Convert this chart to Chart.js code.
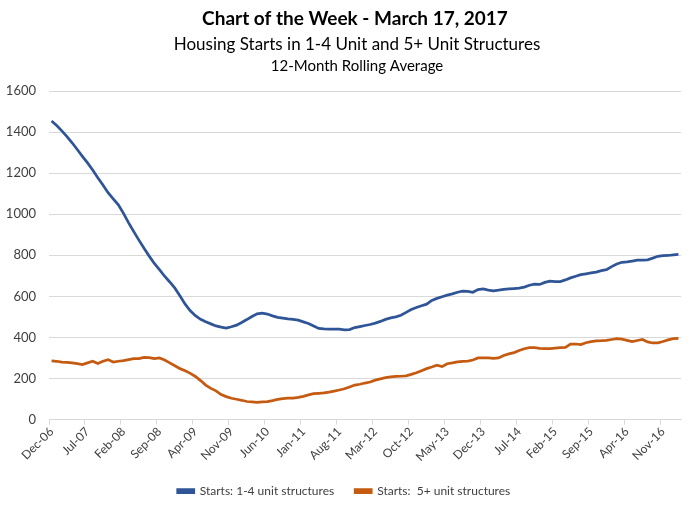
<!DOCTYPE html>
<html>
<head>
<meta charset="utf-8">
<script src="https://cdn.jsdelivr.net/npm/chart.js@4.4.1/dist/chart.umd.min.js"></script>
<style>
  html, body { margin: 0; padding: 0; background: #fff; }
</style>
</head>
<body>
<canvas id="chart" width="700" height="506"></canvas>
<script>
// monthly categories, Dec-06 .. Feb-17
const months = [
  'Dec-06',
  'Jan-07','Feb-07','Mar-07','Apr-07','May-07','Jun-07','Jul-07','Aug-07','Sep-07','Oct-07','Nov-07','Dec-07',
  'Jan-08','Feb-08','Mar-08','Apr-08','May-08','Jun-08','Jul-08','Aug-08','Sep-08','Oct-08','Nov-08','Dec-08',
  'Jan-09','Feb-09','Mar-09','Apr-09','May-09','Jun-09','Jul-09','Aug-09','Sep-09','Oct-09','Nov-09','Dec-09',
  'Jan-10','Feb-10','Mar-10','Apr-10','May-10','Jun-10','Jul-10','Aug-10','Sep-10','Oct-10','Nov-10','Dec-10',
  'Jan-11','Feb-11','Mar-11','Apr-11','May-11','Jun-11','Jul-11','Aug-11','Sep-11','Oct-11','Nov-11','Dec-11',
  'Jan-12','Feb-12','Mar-12','Apr-12','May-12','Jun-12','Jul-12','Aug-12','Sep-12','Oct-12','Nov-12','Dec-12',
  'Jan-13','Feb-13','Mar-13','Apr-13','May-13','Jun-13','Jul-13','Aug-13','Sep-13','Oct-13','Nov-13','Dec-13',
  'Jan-14','Feb-14','Mar-14','Apr-14','May-14','Jun-14','Jul-14','Aug-14','Sep-14','Oct-14','Nov-14','Dec-14',
  'Jan-15','Feb-15','Mar-15','Apr-15','May-15','Jun-15','Jul-15','Aug-15','Sep-15','Oct-15','Nov-15','Dec-15',
  'Jan-16','Feb-16','Mar-16','Apr-16','May-16','Jun-16','Jul-16','Aug-16','Sep-16','Oct-16','Nov-16','Dec-16',
  'Jan-17','Feb-17'
];

// Starts: 1-4 unit structures (thousands, 12-month rolling avg)
const oneToFour = [
  1454,1432,1406,1378,1348,1315,1282,1250,1215,1178,1142,1105,1075,1046,1004,958,915,874,834,796,
  760,730,698,670,640,602,562,530,506,488,476,466,456,450,446,452,460,473,487,502,
  515,518,514,505,498,494,490,488,484,476,468,456,444,442,441,440,440,437,438,448,
  453,458,463,470,478,488,495,500,508,522,536,546,554,562,580,590,598,606,612,620,
  625,624,620,633,636,630,627,630,634,636,638,640,645,654,660,658,668,674,672,672,
  680,690,698,706,710,714,718,725,730,745,758,766,768,772,776,777,778,786,795,798,
  799,802,804
];

// Starts: 5+ unit structures
const fivePlus = [
  286,284,280,278,276,272,268,276,284,273,284,292,280,284,287,292,297,297,303,302,
  297,300,290,276,262,248,238,225,210,190,168,152,140,122,112,104,99,94,88,86,
  84,86,88,92,98,102,104,105,108,113,120,126,128,130,134,139,144,150,159,168,
  172,178,183,192,198,204,208,210,211,213,220,228,238,248,256,265,258,272,276,281,
  283,285,290,300,300,300,298,300,312,320,326,336,345,350,350,347,346,346,348,350,
  352,368,368,365,374,380,383,384,386,390,394,392,386,380,385,390,378,373,374,380,
  388,394,395
];

const seriesNames = ['Starts: 1-4 unit structures', 'Starts:  5+ unit structures'];
const titleLines = [
  'Chart of the Week - March 17, 2017',
  'Housing Starts in 1-4 Unit and 5+ Unit Structures',
  '12-Month Rolling Average'
];

const titlePlugin = {
  id: 'titleLines',
  afterDraw(chart) {
    const ctx = chart.ctx
    ctx.save()
    ctx.fillStyle = '#000'
    ctx.textAlign = 'center'
    ctx.textBaseline = 'middle'
    ctx.font = 'bold 19px Lato'
    ctx.fillText(titleLines[0], 355, 19)
    ctx.font = '17px Lato'
    ctx.fillText(titleLines[1], 357, 45)
    ctx.font = '15px Lato'
    ctx.fillText(titleLines[2], 357, 66)
    ctx.restore()
  }
}

new Chart(document.getElementById('chart'), {
  type: 'line',
  data: {
    labels: months,
    datasets: [{
      label: seriesNames[0],
      data: oneToFour,
      borderColor: '#2f5597',
      backgroundColor: '#2f5597',
      borderWidth: 2.75,
      pointRadius: 0,
      fill: false
    }, {
      label: seriesNames[1],
      data: fivePlus,
      borderColor: '#c55a11',
      backgroundColor: '#c55a11',
      borderWidth: 2.75,
      pointRadius: 0,
      fill: false
    }]
  },
  options: {
    responsive: false,
    animation: false,
    layout: { padding: { top: 91, left: 7, right: 19, bottom: -1 } },
    plugins: {
      title: { display: false },
      tooltip: { enabled: false },
      legend: {
        position: 'bottom',
        labels: {
          boxWidth: 16,
          boxHeight: 3,
          padding: 21,
          color: '#404040',
          font: { family: 'Lato', size: 12 }
        }
      }
    },
    scales: {
      x: {
        offset: true,
        afterFit: (scale) => { scale.paddingLeft = 0; scale.paddingRight = 0 },
        grid: {
          offset: true,
          drawOnChartArea: false,
          drawTicks: true,
          tickLength: 5,
          color: (c) => c.index % 7 === 0 ? '#d9d9d9' : 'rgba(0,0,0,0)'
        },
        border: { color: '#d9d9d9' },
        ticks: {
          autoSkip: false,
          minRotation: 45,
          maxRotation: 45,
          padding: 0,
          color: '#404040',
          font: { family: 'Lato', size: 12 },
          callback: (v, i) => i % 7 === 0 ? months[i] : ''
        }
      },
      y: {
        min: 0,
        max: 1600,
        afterFit: (scale) => { scale.width = 42 },
        ticks: {
          stepSize: 200,
          padding: 13,
          color: '#404040',
          font: { family: 'Lato', size: 13 },
          callback: (v) => String(v)
        },
        grid: { color: '#d9d9d9', drawTicks: false },
        border: { display: false }
      }
    }
  },
  plugins: [titlePlugin]
});
</script>
</body>
</html>
